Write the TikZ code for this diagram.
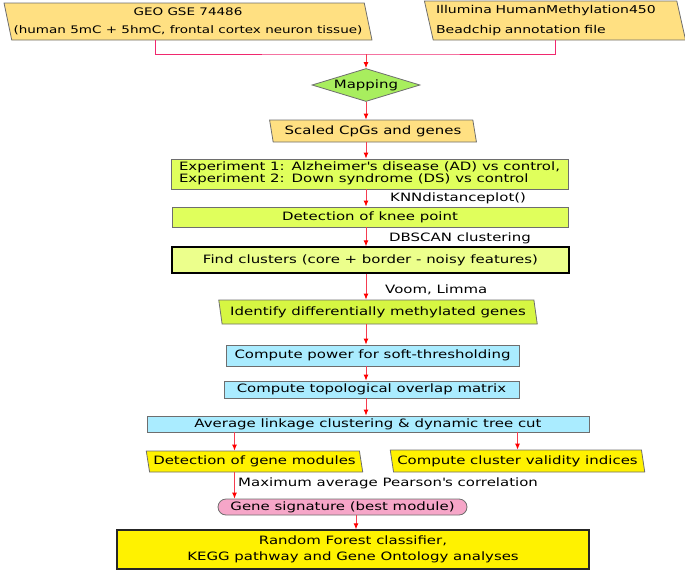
\documentclass[tikz,border=0pt]{standalone}
\usepackage{fontspec}
\setmainfont{DejaVu Sans}[FakeStretch=1.3]
\usepackage{tikz}
\usetikzlibrary{arrows.meta, positioning, shapes.geometric, shapes.misc, calc}

\definecolor{sand}{RGB}{255,224,130}
\definecolor{leaf}{RGB}{168,238,94}
\definecolor{lime}{RGB}{224,255,92}
\definecolor{palelime}{RGB}{236,255,140}
\definecolor{midlime}{RGB}{214,246,66}
\definecolor{sky}{RGB}{170,236,255}
\definecolor{rose}{RGB}{246,166,200}
\definecolor{wire}{RGB}{240,40,110}
\definecolor{edge}{RGB}{110,110,110}

\begin{document}
\begin{tikzpicture}[x=1pt, y=-1pt,
    box/.style={draw=edge, line width=0.8pt, rectangle, inner sep=0pt, align=center, font=\fontsize{11.5}{13.5}\selectfont},
    para/.style={box, trapezium, trapezium left angle=106, trapezium right angle=74, trapezium stretches=true},
    note/.style={anchor=west, inner sep=0pt, font=\fontsize{11.5}{13.5}\selectfont},
    flow/.style={draw={rgb,255:red,245;green,60;blue,80}, line width=0.9pt, -{Latex[red, length=6pt, width=5pt]}}
]
\useasboundingbox (0,0) rectangle (685,570);

% Inputs - data set and annotation file
\node[para, fill=sand, minimum width=370, minimum height=37, font=\fontsize{10.4}{12.5}\selectfont] (geo) at (188,21.5)
    {GEO GSE 74486\\[5pt](human 5mC + 5hmC, frontal cortex neuron tissue)};
\node[para, fill=sand, minimum width=262, minimum height=39, text width=238, align=left, font=\fontsize{10.8}{12.5}\selectfont] (illu) at (555,20.5)
    {Illumina HumanMethylation450\\[7pt]Beadchip annotation file};

% Mapping step
\node[box, diamond, aspect=3.3, fill=leaf, minimum width=108, minimum height=33] (map) at (366,85) {Mapping};

% Joining lines from both inputs
\coordinate (geoout) at (155,40);
\coordinate (illuout) at (555,40);
\coordinate (join) at (366,54);
\draw[draw=wire, line width=0.8pt] (geoout) |- (join) -| (illuout);
\draw[flow] (join) -- (map.north);

\node[para, fill=sand, minimum width=207, minimum height=22] (scaled) at (373,131) {Scaled CpGs and genes};

% Experiments and clustering
\node[box, fill=lime, minimum width=397, minimum height=30] (exp) at (369.5,174)
    {\renewcommand{\arraystretch}{0.78}\begin{tabular}{@{}l@{\hspace{7pt}}l@{}}
    Experiment 1: & Alzheimer\textquotesingle s disease (AD) vs control,\\
    Experiment 2: & Down syndrome (DS) vs control\end{tabular}};
\node[box, fill=lime, minimum width=396, minimum height=20] (knee) at (370,217) {Detection of knee point};
\node[box, draw=black, line width=1.3pt, fill=palelime, minimum width=397, minimum height=26] (find) at (370.5,260)
    {Find clusters (core + border - noisy features)};
\node[para, fill=midlime, minimum width=320, minimum height=24] (ident) at (378,312)
    {Identify differentially methylated genes};

\node[note] (knn) at (390,198) {KNNdistanceplot()};
\node[note] (dbscan) at (389,238) {DBSCAN clustering};
\node[note] (voom) at (385,290) {Voom, Limma};

% Network construction
\node[box, fill=sky, minimum width=293, minimum height=21] (power) at (372.5,355.5) {Compute power for soft-thresholding};
\node[box, fill=sky, minimum width=295, minimum height=17] (topo) at (371.5,389.5) {Compute topological overlap matrix};
\node[box, fill=sky, minimum width=442, minimum height=16] (avg) at (368,424) {Average linkage clustering \& dynamic tree cut};

% Modules and validity
\node[para, fill=yellow, minimum width=217, minimum height=21] (mods) at (254.5,461.5) {Detection of gene modules};
\node[para, fill=yellow, minimum width=255, minimum height=22] (valid) at (517.5,461) {Compute cluster validity indices};
\node[note] (pear) at (238,483) {Maximum average Pearson\textquotesingle s correlation};

% Signature and downstream analyses
\node[box, rounded rectangle, fill=rose, minimum width=249, minimum height=16] (sig) at (342.5,507) {Gene signature (best module)};
\node[box, draw=black!85, line width=1.3pt, fill=yellow, minimum width=472, minimum height=39] (final) at (353,549.5)
    {Random Forest classifier,\\[3pt]KEGG pathway and Gene Ontology analyses};

% Arrows between steps
\draw[flow] (map.south) -- (map.south |- scaled.north);
\draw[flow] (scaled.south -| map.south) -- (map.south |- exp.north);
\draw[flow] (exp.south -| map.south) -- (map.south |- knee.north);
\draw[flow] (knee.south -| map.south) -- (map.south |- find.north);
\draw[flow] (find.south -| map.south) -- (map.south |- ident.north);
\draw[flow] (ident.south -| map.south) -- (map.south |- power.north);
\draw[flow] (power.south -| map.south) -- (map.south |- topo.north);
\draw[flow] (topo.south -| map.south) -- (map.south |- avg.north);
\draw[flow] ([xshift=-20pt]mods.north |- avg.south) -- ([xshift=-20pt]mods.north);
\draw[flow] (avg.south -| valid.north) -- (valid.north);
\draw[flow] ([xshift=-20pt]mods.south) -- ([xshift=-20pt]mods.south |- sig.north);
\draw[flow] ([xshift=13.5pt]sig.south) -- ([xshift=13.5pt]sig.south |- final.north);

\end{tikzpicture}
\end{document}
